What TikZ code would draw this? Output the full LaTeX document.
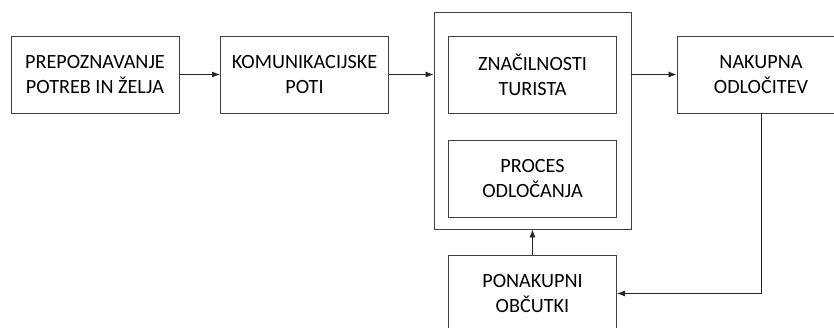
\documentclass[tikz,border=0pt]{standalone}
\usepackage{fontspec}
\setmainfont{Carlito}
\usetikzlibrary{arrows.meta}

\tikzset{
  box/.style={draw=black!75, line width=0.9pt, minimum width=168pt,
    minimum height=77pt, align=center, inner sep=0pt,
    font=\fontsize{20.2}{25}\selectfont},
  link/.style={draw=black!85, line width=0.8pt, -{Latex[length=8pt,width=6pt]}}
}

\begin{document}
\begin{tikzpicture}[x=1pt, y=-1pt]

  \clip (0,0) rectangle (834,327); %% page

  \node[box] (potrebe) at (95,74.5) {PREPOZNAVANJE\\POTREB IN ŽELJA};
  \node[box] (poti) at (304.5,74.5) {KOMUNIKACIJSKE\\POTI};

  \node[box, minimum width=197pt, minimum height=217pt] (turist) at (532.5,120.5) {};
  \node[box] (znacilnosti) at (532.5,74.5) {ZNAČILNOSTI\\TURISTA};
  \node[box] (proces) at (532.5,178.5) {PROCES\\ODLOČANJA};

  \node[box] (odlocitev) at (761,74.5) {NAKUPNA\\ODLOČITEV};
  \node[box] (obcutki) at (532.5,293.5) {PONAKUPNI\\OBČUTKI};

  \draw[link] (potrebe) -- (poti);
  \draw[link] (poti) -- (poti -| turist.west);
  \draw[link] (turist.east |- odlocitev) -- (odlocitev);
  \draw[link] (obcutki) -- (turist);
  \draw[link] (odlocitev) |- (obcutki);

\end{tikzpicture}
\end{document}
